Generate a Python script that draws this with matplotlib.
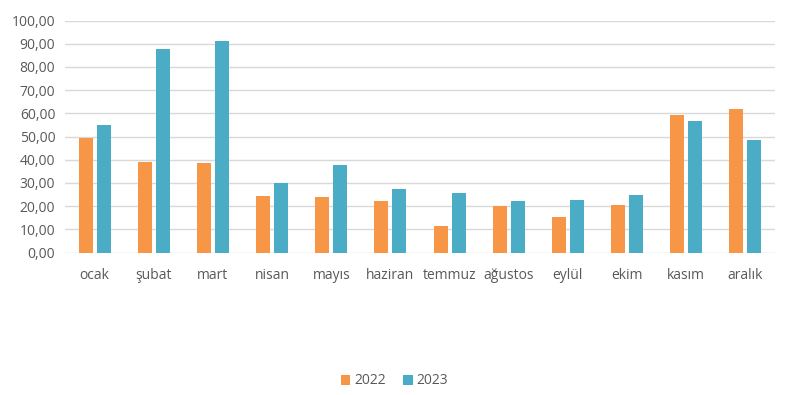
import numpy as np
import matplotlib
matplotlib.use("Agg")
import matplotlib.pyplot as plt

# Aylar ve yıllara göre değerler
aylar = ["ocak", "şubat", "mart", "nisan", "mayıs", "haziran",
         "temmuz", "ağustos", "eylül", "ekim", "kasım", "aralık"]
deger_2022 = [49.5, 39.0, 38.6, 24.2, 23.8, 22.3, 11.4, 20.0, 15.4, 20.5, 59.3, 62.0]
deger_2023 = [55.0, 87.7, 91.0, 30.0, 37.7, 27.4, 25.5, 22.3, 22.6, 24.8, 56.5, 48.5]
yillar = ["2022", "2023"]

plt.rcParams['font.family'] = ['Open Sans', 'DejaVu Sans']

fig = plt.figure(figsize=(7.89, 3.95), dpi=100)
ax = fig.add_axes([65 / 789, 1 - 252.5 / 395, 710 / 789, 232 / 395])

x = np.arange(len(aylar))
w = 0.235
gap = 0.07
ax.bar(x - (w + gap) / 2, deger_2022, width=w, color="#F79646", label=yillar[0], zorder=3)
ax.bar(x + (w + gap) / 2, deger_2023, width=w, color="#4BACC6", label=yillar[1], zorder=3)

ax.set_xlim(-0.5, len(aylar) - 0.5)
ax.set_ylim(0, 100)
ax.set_yticks(np.arange(0, 101, 10))
ax.set_yticklabels([f"{v:.2f}".replace(".", ",") for v in np.arange(0, 101, 10)])
ax.set_xticks(x)
ax.set_xticklabels(aylar)

ax.grid(axis="y", color="#D9D9D9", linewidth=1, zorder=0)
for s in ax.spines.values():
    s.set_visible(False)
ax.tick_params(axis="both", length=0, colors="#595959", labelsize=10)
ax.tick_params(axis="x", pad=11)
ax.tick_params(axis="y", pad=7)

fig.legend(loc="center", bbox_to_anchor=(0.5, 1 - 381 / 395), ncol=2, frameon=False,
           fontsize=10, handlelength=0.7, handleheight=0.7, handletextpad=0.3,
           columnspacing=1.2, labelcolor="#595959")

fig.savefig("out.png", dpi=100)
